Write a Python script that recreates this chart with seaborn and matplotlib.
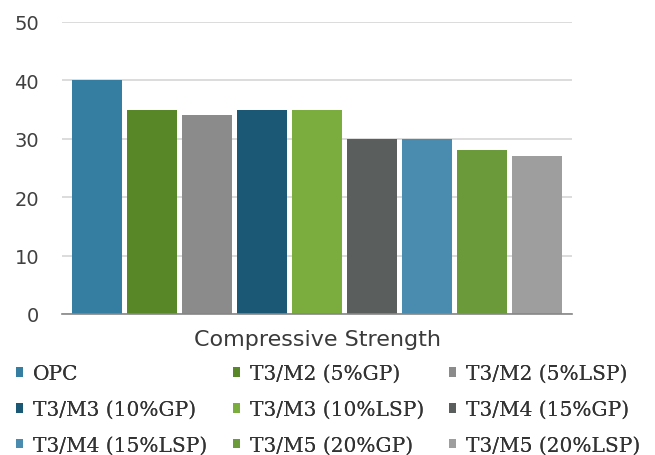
import matplotlib
matplotlib.use("Agg")
import matplotlib.pyplot as plt
import seaborn as sns
import pandas as pd

# Compressive strength per mix
mixes = ["OPC", "T3/M2 (5%GP)", "T3/M2 (5%LSP)",
         "T3/M3 (10%GP)", "T3/M3 (10%LSP)", "T3/M4 (15%GP)",
         "T3/M4 (15%LSP)", "T3/M5 (20%GP)", "T3/M5 (20%LSP)"]
strength = [40, 35, 34, 35, 35, 30, 30, 28, 27]
category = "Compressive Strength"
y_ticks = [0, 10, 20, 30, 40, 50]

colors = ["#367DA2", "#588727", "#8B8B8B",
          "#1A5876", "#7AAD3D", "#5A5E5D",
          "#4A8CB0", "#6A9A3A", "#9E9E9E"]

df = pd.DataFrame({"group": [category] * len(mixes),
                   "mix": mixes,
                   "value": strength})

sns.set_theme(style="white")
plt.rcParams["font.family"] = ["DejaVu Sans"]

fig = plt.figure(figsize=(6.55, 4.56), dpi=100)
W, H = 655, 456
ax = fig.add_axes([62 / W, 1 - 315 / H, 510 / W, (315 - 23) / H])

sns.barplot(data=df, x="group", y="value", hue="mix", hue_order=mixes,
            palette=colors, width=0.9706, gap=0.091, linewidth=0,
            saturation=1, legend=False, ax=ax)

ax.set_ylim(0, 50)
ax.set_xlim(-0.5, 0.5)
ax.set_yticks(y_ticks)
ax.set_yticklabels([str(t) for t in y_ticks], fontsize=14, color="#404040")
ax.tick_params(axis="y", length=0, pad=16.5)
ax.set_xticks([])
ax.set_xlabel(category, fontsize=16, color="#3A3A3A", labelpad=11)
ax.set_ylabel("")
ax.yaxis.grid(True, color="#D9D9D9", linewidth=1.3)
ax.set_axisbelow(True)
for side in ["left", "right", "top"]:
    ax.spines[side].set_visible(False)
ax.spines["bottom"].set_color("#868686")
ax.spines["bottom"].set_linewidth(1.2)

# Legend laid out as three columns, filled row by row
handles = [plt.Rectangle((0, 0), 1, 1, color=c, linewidth=0) for c in colors]
col_x = [16, 233, 449]
for ci, x0 in enumerate(col_x):
    idx = [ci, ci + 3, ci + 6]
    leg = fig.legend([handles[i] for i in idx], [mixes[i] for i in idx],
                     loc="upper left", bbox_to_anchor=(x0 / W, 1 - 365 / H),
                     frameon=False, borderpad=0, borderaxespad=0,
                     handlelength=0.36, handleheight=0.36, handletextpad=0.5,
                     labelspacing=0.84,
                     prop={"family": "DejaVu Serif", "size": 14.5})
    for t in leg.get_texts():
        t.set_color("#333333")
    fig.add_artist(leg)

fig.savefig("out.png", dpi=100)
